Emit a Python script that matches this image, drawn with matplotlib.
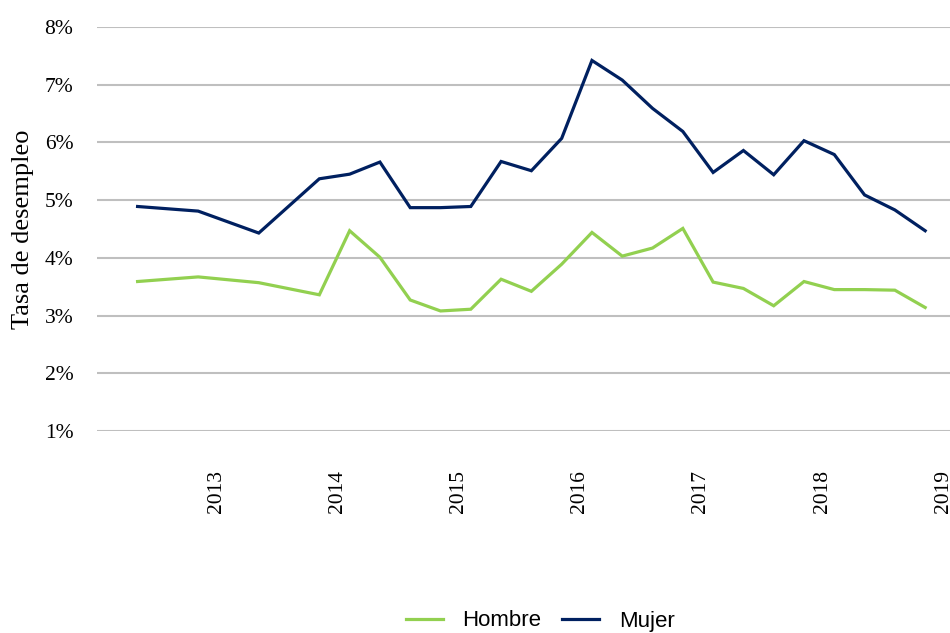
import numpy as np
import pandas as pd
import matplotlib
matplotlib.use("Agg")
import matplotlib.pyplot as plt
from matplotlib.transforms import ScaledTranslation

# periodos (trimestres moviles, mes central)
periodos = ["2012-05", "2012-11", "2013-05", "2013-11", "2014-02", "2014-05",
            "2014-08", "2014-11", "2015-02", "2015-05", "2015-08", "2015-11",
            "2016-02", "2016-05", "2016-08", "2016-11", "2017-02", "2017-05",
            "2017-08", "2017-11", "2018-02", "2018-05", "2018-08", "2018-11"]

hombre = [3.59, 3.67, 3.57, 3.36, 4.47, 4.01, 3.27, 3.08, 3.11, 3.63, 3.42, 3.89,
          4.44, 4.03, 4.17, 4.51, 3.58, 3.47, 3.17, 3.59, 3.45, 3.45, 3.44, 3.14]

mujer = [4.89, 4.81, 4.43, 5.37, 5.45, 5.66, 4.87, 4.87, 4.89, 5.67, 5.51, 6.07,
         7.42, 7.08, 6.59, 6.19, 5.48, 5.86, 5.44, 6.03, 5.79, 5.09, 4.83, 4.47]

anios = [2013, 2014, 2015, 2016, 2017, 2018, 2019]

fechas = pd.to_datetime(periodos)
x = fechas.year + (fechas.month - 0.5) / 12.0

plt.rcParams['font.family'] = ['Liberation Serif', 'DejaVu Serif']

fig = plt.figure(figsize=(9.5, 6.33), dpi=100)
ax = fig.add_axes([97 / 950, 202 / 633, 1 - 97 / 950, 404 / 633])

ax.plot(x, hombre, color="#92d050", lw=2.3, label="Hombre", solid_joinstyle="miter")
ax.plot(x, mujer, color="#002060", lw=2.3, label="Mujer", solid_joinstyle="miter")

ax.set_ylim(1, 8)
ax.set_xlim(2012.04, 2019.08)
ax.set_yticks(range(1, 9))
ax.set_yticklabels([f"{v}%" for v in range(1, 9)], fontsize=15.5)
ax.set_xticks(anios)
ax.set_xticklabels([str(a) for a in anios], rotation=90, fontsize=15.5, va="top")
ax.tick_params(axis="x", length=0, pad=28)
ax.tick_params(axis="y", length=0, pad=17)

# las etiquetas de año van un poco a la derecha del tick
off = ScaledTranslation(3 / 100, 0, fig.dpi_scale_trans)
for lab in ax.get_xticklabels():
    lab.set_transform(lab.get_transform() + off)

ax.grid(axis="y", color="#bfbfbf", lw=1.5)
ax.set_axisbelow(True)
for s in ax.spines.values():
    s.set_visible(False)

ax.set_ylabel("Tasa de desempleo", fontsize=19)
ax.yaxis.set_label_coords(-63 / 853, 0.5)

leg = fig.legend(loc="center", bbox_to_anchor=(540 / 950, 12 / 633), ncol=2,
                 frameon=False, prop={"family": "Liberation Sans", "size": 16},
                 handlelength=1.67, handletextpad=0.9, columnspacing=0.9)

fig.savefig("out.png", dpi=100)
